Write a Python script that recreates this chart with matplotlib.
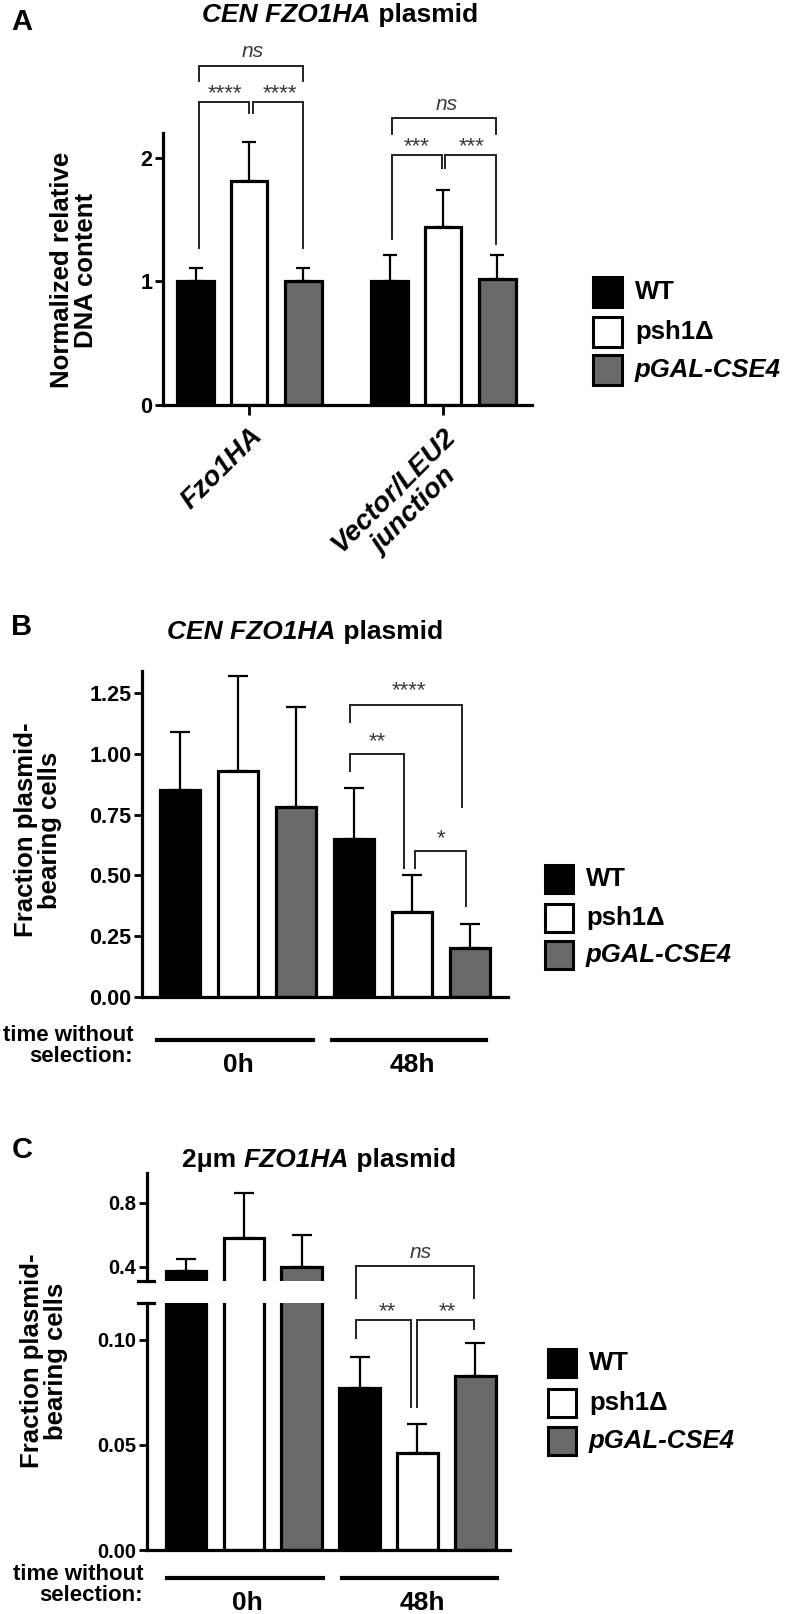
import matplotlib
matplotlib.use("Agg")
import matplotlib.pyplot as plt
from matplotlib.patches import Rectangle
import numpy as np

plt.rcParams['font.family'] = ['Liberation Sans', 'DejaVu Sans']
plt.rcParams['font.weight'] = 'bold'

# ---- data ----
strains = ['WT', 'psh1Δ', 'pGAL-CSE4']
colors = ['black', 'white', '#696969']

# A: normalized relative DNA content
a_targets = ['Fzo1HA', 'Vector/LEU2\njunction']
a_wt = [1.0, 1.0]
a_wt_err = [0.11, 0.21]
a_psh = [1.81, 1.44]
a_psh_err = [0.32, 0.30]
a_gal = [1.0, 1.02]
a_gal_err = [0.11, 0.19]

# B: CEN plasmid, fraction plasmid-bearing cells
times = ['0h', '48h']
b_wt = [0.85, 0.65]
b_wt_err = [0.24, 0.21]
b_psh = [0.93, 0.35]
b_psh_err = [0.39, 0.15]
b_gal = [0.78, 0.20]
b_gal_err = [0.41, 0.10]

# C: 2um plasmid
c_wt = [0.37, 0.077]
c_wt_err = [0.08, 0.015]
c_psh = [0.58, 0.046]
c_psh_err = [0.28, 0.014]
c_gal = [0.40, 0.083]
c_gal_err = [0.20, 0.0155]

W, H = 789, 1614
fig = plt.figure(figsize=(W / 100, H / 100), dpi=100)


def rect(l, r, top, bottom):
    return [l / W, 1 - bottom / H, (r - l) / W, (bottom - top) / H]


def style_axis(ax, labelsize):
    for s in ['top', 'right']:
        ax.spines[s].set_visible(False)
    for s in ['left', 'bottom']:
        ax.spines[s].set_linewidth(2.3)
    ax.tick_params(axis='y', length=6, width=2, pad=1.5, labelsize=labelsize)
    for lab in ax.get_yticklabels():
        lab.set_fontweight('bold')


def draw_bars(ax, x, vals, errs, color, width, capsize):
    ax.bar(x, vals, width=width, color=color, edgecolor='black', linewidth=2.3, zorder=2)
    ax.errorbar(x, vals, yerr=[np.zeros(len(vals)), errs], fmt='none', ecolor='black',
                elinewidth=1.6, capsize=capsize, capthick=1.6, zorder=1)


def bracket(ax, x1, x2, y, y1, y2, lw=1.4):
    ax.plot([x1, x1, x2, x2], [y1, y, y, y2], color='#222222', lw=lw,
            clip_on=False, solid_joinstyle='miter', zorder=3)


def sig(ax, x, y, s, size=16, italic=False):
    ax.text(x, y, s, ha='center', va='center', fontsize=size, color='#3a3a3a',
            fontweight='normal', fontstyle='italic' if italic else 'normal', clip_on=False)


def mixed_title(xc, yc, parts, size):
    r = fig.canvas.get_renderer()
    ts, ws = [], []
    for s, st in parts:
        t = fig.text(0, 0, s, fontsize=size, fontweight='bold', fontstyle=st,
                     ha='left', va='center')
        ts.append(t)
        ws.append(t.get_window_extent(r).width)
    x = xc - sum(ws) / 2
    for t, w in zip(ts, ws):
        t.set_position((x / W, 1 - yc / H))
        x += w


def legend(x0, ys, size, fs):
    for y, c, lab in zip(ys, colors, strains):
        fig.add_artist(Rectangle((x0 / W, 1 - (y + size / 2) / H), size / W, size / H,
                                 transform=fig.transFigure, facecolor=c,
                                 edgecolor='black', linewidth=2.2))
        st = 'italic' if lab.startswith('pGAL') else 'normal'
        fig.text((x0 + size + 13) / W, 1 - y / H, lab, fontsize=fs, fontweight='bold',
                 fontstyle=st, va='center', ha='left')


def time_row(ax, y_line, y_lab, y_head, spans, ctr, right):
    tr = ax.get_xaxis_transform()
    for (a, b), c, lab in zip(spans, ctr, times):
        ax.plot([a, b], [y_line, y_line], color='black', lw=3, transform=tr, clip_on=False)
        ax.text(c, y_lab, lab, transform=tr, ha='center', va='center', fontsize=19,
                fontweight='bold')
    ax.text(right, y_head, 'time without\nselection:', transform=tr, ha='right',
            va='center', multialignment='right', fontsize=16, fontweight='bold',
            linespacing=1.0)


# ---------------- Panel A ----------------
axA = fig.add_axes(rect(163, 532, 133, 405))
gx = np.arange(len(a_targets))
offs = [-0.275, 0.0, 0.28]
for o, v, e, c in zip(offs, [a_wt, a_psh, a_gal], [a_wt_err, a_psh_err, a_gal_err], colors):
    draw_bars(axA, gx + o, v, e, c, 0.19, 4.8)
axA.set_xlim(-0.443, 1.459)
axA.set_ylim(0, 2.2)
axA.set_yticks([0, 1, 2])
axA.set_yticklabels(['0', '1', '2'])
style_axis(axA, 15.5)
axA.set_xticks(gx)
axA.set_xticklabels(a_targets, rotation=45, ha='right', va='top', rotation_mode='anchor',
                    fontsize=20, fontweight='bold', fontstyle='italic', multialignment='center')
axA.tick_params(axis='x', length=7, width=2, pad=6)

bracket(axA, -0.255, 0.278, 2.74, 2.62, 2.62)
sig(axA, 0.02, 2.86, 'ns', 15, italic=True)
bracket(axA, -0.255, 0.0, 2.45, 1.27, 2.36)
bracket(axA, 0.02, 0.28, 2.45, 2.36, 1.27)
sig(axA, -0.124, 2.52, '****')
sig(axA, 0.16, 2.52, '****')
bracket(axA, 0.735, 1.273, 2.32, 2.19, 2.19)
sig(axA, 1.02, 2.43, 'ns', 15, italic=True)
bracket(axA, 0.735, 0.995, 2.02, 1.34, 1.92)
bracket(axA, 1.01, 1.273, 2.02, 1.92, 1.30)
sig(axA, 0.866, 2.09, '***')
sig(axA, 1.15, 2.09, '***')

fig.text(74 / W, 1 - 270 / H, 'Normalized relative\nDNA content', rotation=90,
         ha='center', va='center', multialignment='center', fontsize=18.5,
         fontweight='bold', linespacing=1.05)
fig.text(22 / W, 1 - 22 / H, 'A', fontsize=21, fontweight='bold', ha='center', va='center')
mixed_title(340, 15, [('CEN FZO1HA', 'italic'), (' plasmid', 'normal')], 19)
legend(593, [292, 332, 370], 29, 18.5)

# ---------------- Panel B ----------------
axB = fig.add_axes(rect(142, 508, 671, 997))
bx = np.arange(6)
for i, (v, e, c) in enumerate(zip([b_wt, b_psh, b_gal], [b_wt_err, b_psh_err, b_gal_err], colors)):
    draw_bars(axB, bx[[i, i + 3]], v, e, c, 0.69, 7)
axB.set_xlim(-0.655, 5.655)
axB.set_ylim(0, 1.34)
bt = [0, 0.25, 0.5, 0.75, 1.0, 1.25]
axB.set_yticks(bt)
axB.set_yticklabels([f'{t:.2f}' for t in bt])
style_axis(axB, 15.5)
axB.set_xticks([])

bracket(axB, 2.93, 4.86, 1.20, 1.13, 0.78)
sig(axB, 3.95, 1.26, '****')
bracket(axB, 2.93, 3.86, 1.00, 0.93, 0.53)
sig(axB, 3.40, 1.05, '**')
bracket(axB, 4.05, 4.93, 0.60, 0.53, 0.375)
sig(axB, 4.5, 0.65, '*')

time_row(axB, -0.132, -0.209, -0.15, [(-0.40, 2.29), (2.62, 5.28)], [1.0, 4.0], -0.81)

fig.text(38 / W, 1 - 830 / H, 'Fraction plasmid-\nbearing cells', rotation=90,
         ha='center', va='center', multialignment='center', fontsize=18.5,
         fontweight='bold', linespacing=1.05)
fig.text(22 / W, 1 - 627 / H, 'B', fontsize=21, fontweight='bold', ha='center', va='center')
mixed_title(305, 632, [('CEN FZO1HA', 'italic'), (' plasmid', 'normal')], 19)
legend(545, [879, 918, 955], 28, 18.5)

# ---------------- Panel C (broken axis) ----------------
axCu = fig.add_axes(rect(147, 510, 1173, 1281))
axCl = fig.add_axes(rect(147, 510, 1303, 1550))
cx = np.arange(6)
for ax in (axCu, axCl):
    for i, (v, e, c) in enumerate(zip([c_wt, c_psh, c_gal], [c_wt_err, c_psh_err, c_gal_err], colors)):
        draw_bars(ax, cx[[i, i + 3]], v, e, c, 0.70, 7.5)
    ax.set_xlim(-0.675, 5.6)
    ax.set_xticks([])
axCu.set_ylim(0.31, 0.985)
axCu.set_yticks([0.4, 0.8])
axCu.set_yticklabels(['0.4', '0.8'])
axCl.set_ylim(0, 0.1176)
axCl.set_yticks([0, 0.05, 0.10])
axCl.set_yticklabels(['0.00', '0.05', '0.10'])
style_axis(axCu, 14.5)
style_axis(axCl, 14.5)
axCu.spines['bottom'].set_visible(False)
axCu.plot([-0.025, 0.018], [0, 0], transform=axCu.transAxes, color='black', lw=2.3, clip_on=False)
axCl.plot([-0.025, 0.018], [1, 1], transform=axCl.transAxes, color='black', lw=2.3, clip_on=False)

bracket(axCl, 2.94, 4.97, 0.135, 0.12, 0.12)
sig(axCl, 4.05, 0.1415, 'ns', 15, italic=True)
bracket(axCl, 2.94, 3.88, 0.1095, 0.101, 0.068)
bracket(axCl, 4.0, 4.97, 0.1095, 0.068, 0.105)
sig(axCl, 3.48, 0.1135, '**')
sig(axCl, 4.52, 0.1135, '**')

time_row(axCl, -0.113, -0.215, -0.142, [(-0.33, 2.37), (2.70, 5.38)], [1.06, 4.08], -0.74)

fig.text(44 / W, 1 - 1361 / H, 'Fraction plasmid-\nbearing cells', rotation=90,
         ha='center', va='center', multialignment='center', fontsize=18.5,
         fontweight='bold', linespacing=1.05)
fig.text(22 / W, 1 - 1150 / H, 'C', fontsize=21, fontweight='bold', ha='center', va='center')
mixed_title(319, 1160, [('2μm ', 'normal'), ('FZO1HA', 'italic'), (' plasmid', 'normal')], 19)
legend(548, [1363, 1403, 1441], 28, 18.5)

fig.savefig('out.png', dpi=100)
